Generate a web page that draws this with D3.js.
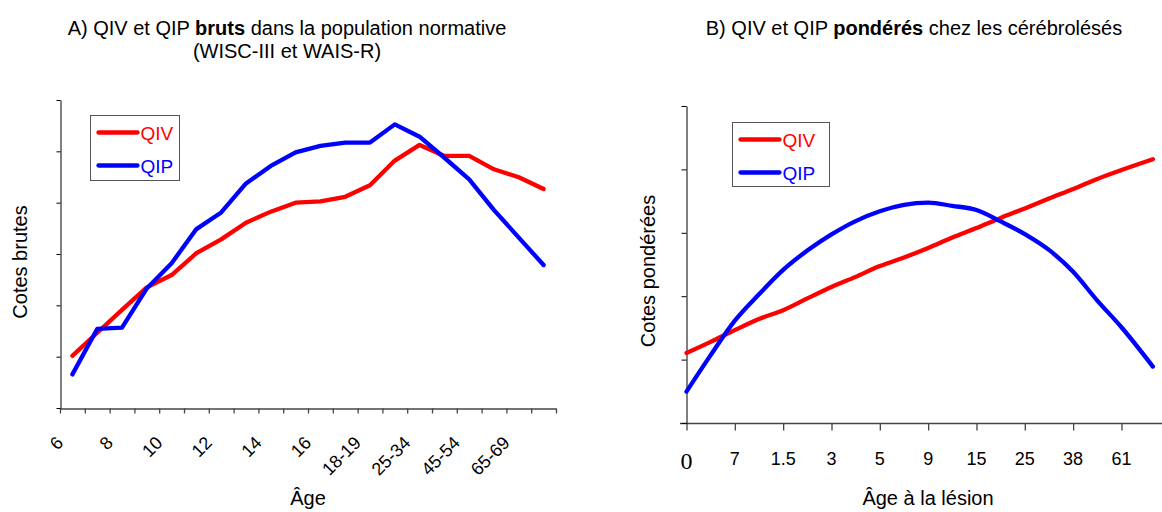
<!DOCTYPE html>
<html>
<head>
<meta charset="utf-8">
<script src="https://cdn.jsdelivr.net/npm/d3@7"></script>
<style>
  body { margin: 0; background: #fff; }
  svg text { font-family: 'Liberation Sans', Arial, sans-serif; fill: #000; }
</style>
</head>
<body>
<svg id="chart"></svg>
<script>
// --- panel A : raw scores by age group (WISC-III + WAIS-R norms)
let agesA = ['6','7','8','9','10','11','12','13','14','15','16','17',
             '18-19','20-24','25-34','35-44','45-54','55-64','65-69','70-74'];
let qivA = [20.3, 29.3, 38.2, 47.0, 51.8, 60.3, 65.7, 72.2, 76.5, 80.0,
            80.5, 82.3, 86.8, 96.4, 102.5, 98.2, 98.2, 93.0, 89.9, 85.3];
let qipA = [13.1, 30.8, 31.3, 46.6, 56.4, 69.7, 76.2, 87.5, 94.3, 99.6,
            102.1, 103.4, 103.4, 110.5, 105.7, 97.5, 89.1, 77.1, 66.4, 55.7];

// --- panel B : weighted scores by age at lesion
let ticksB = ['0','7','1.5','3','5','9','15','25','38','61'];
// x positions of the read points, in tick units
let posB = [0, 0.5, 1, 1.5, 2, 2.5, 3, 3.5, 4, 4.5, 5, 5.5, 6, 6.5, 7, 7.5, 8, 8.5, 9, 9.65];
let qivB = [22.1, 25.6, 29.3, 32.8, 35.6, 39.3, 42.9, 46.1, 49.5, 52.2,
            55.2, 58.5, 61.5, 64.7, 67.7, 70.8, 73.8, 77.0, 79.8, 83.2];
let qipB = [9.9, 21.4, 32.3, 40.6, 48.3, 54.4, 59.5, 63.7, 66.8, 68.8,
            69.5, 68.5, 67.2, 63.6, 59.6, 54.6, 47.7, 38.6, 30.2, 17.8];

let seriesNames = ['QIV', 'QIP'];
let colors = ['#ff0000', '#0000ff'];

let width = 1162;
let height = 512;

let svg = d3.select('#chart').attr('width', width).attr('height', height);

// ---------------- panel A ----------------
let xBandA = d3.scaleBand().domain(agesA).range([60, 556]);
let xEdgeA = d3.scaleLinear().domain([0, agesA.length]).range([60, 556]);
let yA = d3.scaleLinear().domain([0, 120]).range([408, 100]);

let xAxisA = svg.append('g')
  .attr('transform', 'translate(0,408.5)')
  .call(d3.axisBottom(xEdgeA).tickValues(d3.range(agesA.length + 1)).tickFormat('').tickSize(5).tickSizeOuter(0));
xAxisA.selectAll('path,line').attr('stroke', '#444').attr('stroke-width', 1.3);

let yAxisA = svg.append('g')
  .attr('transform', 'translate(60.5,0)')
  .call(d3.axisLeft(yA).ticks(6).tickFormat('').tickSize(4).tickSizeOuter(0));
yAxisA.selectAll('path,line').attr('stroke', '#000');

// category labels, every other one, slanted
svg.append('g').selectAll('text')
  .data(agesA.filter((d, i) => i % 2 === 0))
  .enter()
  .append('text')
  .attr('x', 0).attr('y', 0)
  .attr('transform', d => 'translate(' + (xBandA(d) + xBandA.bandwidth() / 2 - 8) + ',444) rotate(-45)')
  .attr('text-anchor', 'end')
  .style('font-size', '18px')
  .text(d => d);

let lineA = d3.line()
  .x((d, i) => xBandA(agesA[i]) + xBandA.bandwidth() / 2)
  .y(d => yA(d));

[qivA, qipA].forEach((vals, k) => {
  svg.append('path')
    .datum(vals)
    .attr('d', lineA)
    .attr('fill', 'none')
    .attr('stroke', colors[k])
    .attr('stroke-width', 4.3)
    .attr('stroke-linejoin', 'round')
    .attr('stroke-linecap', 'round');
});

// titles / labels A
let titleA = svg.append('text')
  .attr('x', 287).attr('y', 35)
  .attr('text-anchor', 'middle')
  .style('font-size', '20px');
titleA.append('tspan').text('A) QIV et QIP ');
titleA.append('tspan').style('font-weight', 'bold').text('bruts');
titleA.append('tspan').text(' dans la population normative');
svg.append('text')
  .attr('x', 287).attr('y', 58)
  .attr('text-anchor', 'middle')
  .style('font-size', '20px')
  .text('(WISC-III et WAIS-R)');

svg.append('text')
  .attr('transform', 'translate(27,262) rotate(-90)')
  .attr('text-anchor', 'middle')
  .style('font-size', '20px')
  .text('Cotes brutes');

svg.append('text')
  .attr('x', 308).attr('y', 505)
  .attr('text-anchor', 'middle')
  .style('font-size', '20px')
  .text('Âge');

// ---------------- panel B ----------------
let xB = d3.scaleLinear().domain([0, 10]).range([686.5, 1169.8]);
let yB = d3.scaleLinear().domain([0, 100]).range([423, 106]);

let xAxisB = svg.append('g')
  .attr('transform', 'translate(0,423.5)')
  .call(d3.axisBottom(xB).tickValues(d3.range(ticksB.length)).tickFormat('').tickSize(7).tickSizeOuter(0));
xAxisB.select('.domain').remove();
xAxisB.selectAll('line').attr('stroke', '#444').attr('stroke-width', 1.3);
xAxisB.append('line')
  .attr('x1', 680).attr('x2', width)
  .attr('stroke', '#444').attr('stroke-width', 1.3);

let yAxisB = svg.append('g')
  .attr('transform', 'translate(686.5,0)')
  .call(d3.axisLeft(yB).ticks(5).tickFormat('').tickSize(5).tickSizeOuter(0));
yAxisB.selectAll('path,line').attr('stroke', '#000');

svg.append('g').selectAll('text')
  .data(ticksB)
  .enter()
  .append('text')
  .attr('x', (d, i) => xB(i))
  .attr('y', (d, i) => i === 0 ? 469 : 465)
  .attr('text-anchor', 'middle')
  .style('font-family', (d, i) => i === 0 ? "'Liberation Serif', 'Times New Roman', serif" : null)
  .style('font-size', (d, i) => i === 0 ? '24px' : '18px')
  .text(d => d);

let lineB = d3.line()
  .x((d, i) => xB(posB[i]))
  .y(d => yB(d))
  .curve(d3.curveMonotoneX);

[qivB, qipB].forEach((vals, k) => {
  svg.append('path')
    .datum(vals)
    .attr('d', lineB)
    .attr('fill', 'none')
    .attr('stroke', colors[k])
    .attr('stroke-width', 4.3)
    .attr('stroke-linejoin', 'round')
    .attr('stroke-linecap', 'round');
});

let titleB = svg.append('text')
  .attr('x', 914).attr('y', 35)
  .attr('text-anchor', 'middle')
  .style('font-size', '20px');
titleB.append('tspan').text('B) QIV et QIP ');
titleB.append('tspan').style('font-weight', 'bold').text('pondérés');
titleB.append('tspan').text(' chez les cérébrolésés');

svg.append('text')
  .attr('transform', 'translate(655,271) rotate(-90)')
  .attr('text-anchor', 'middle')
  .style('font-size', '20px')
  .text('Cotes pondérées');

svg.append('text')
  .attr('x', 928).attr('y', 505)
  .attr('text-anchor', 'middle')
  .style('font-size', '20px')
  .text('Âge à la lésion');

// ---------------- legends ----------------
let drawLegend = (x, y, w, h) => {
  let g = svg.append('g').attr('transform', 'translate(' + x + ',' + y + ')');
  g.append('rect')
    .attr('width', w).attr('height', h)
    .attr('fill', '#fff')
    .attr('stroke', '#555')
    .attr('stroke-width', 1);
  seriesNames.forEach((name, k) => {
    let cy = 17 + k * 33;
    g.append('line')
      .attr('x1', 8).attr('x2', 47)
      .attr('y1', cy).attr('y2', cy)
      .attr('stroke', colors[k])
      .attr('stroke-width', 4.3)
      .attr('stroke-linecap', 'round');
    g.append('text')
      .attr('x', 50).attr('y', cy + 7)
      .style('fill', colors[k])
      .style('font-size', '19px')
      .text(name);
  });
};
drawLegend(90.5, 115.5, 89, 65);
drawLegend(732.5, 122.5, 97, 64);
</script>
</body>
</html>
